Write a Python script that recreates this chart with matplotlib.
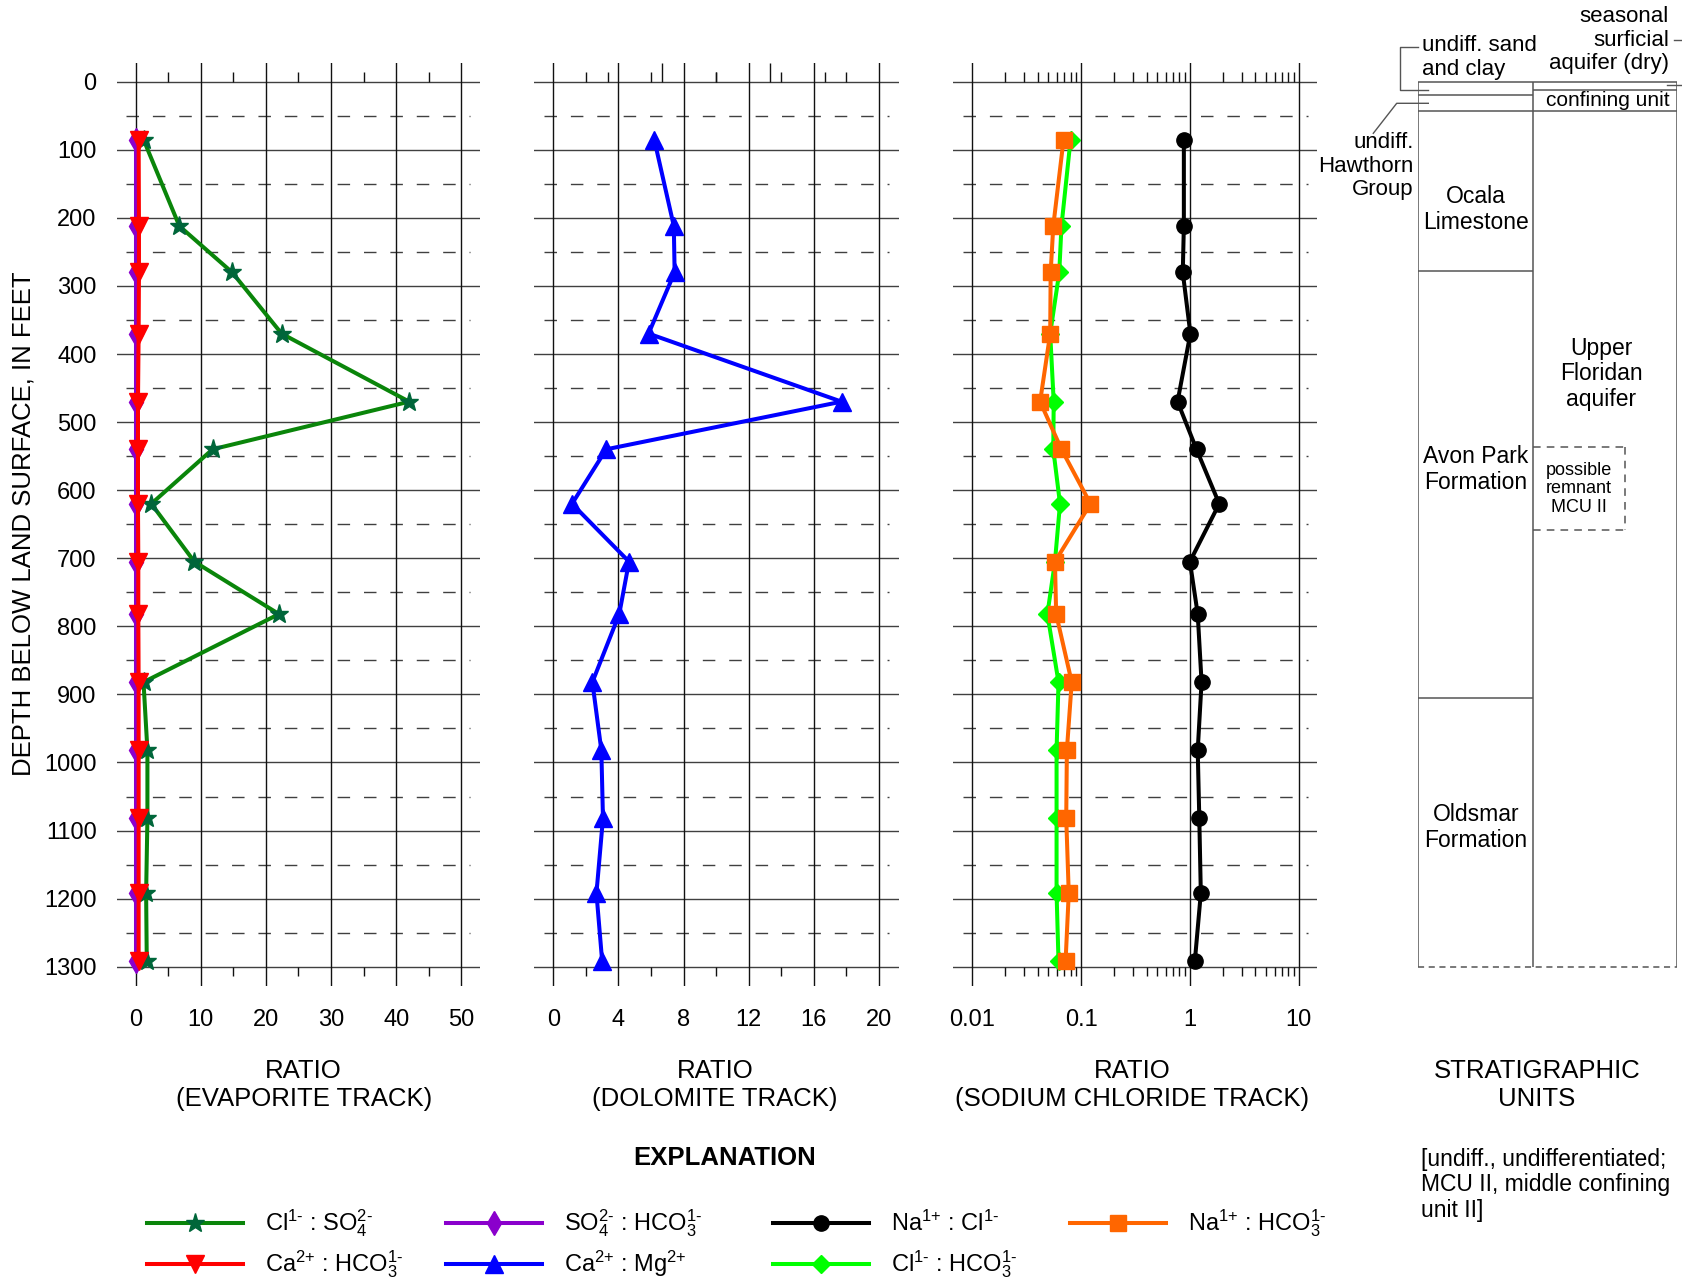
import matplotlib
matplotlib.use("Agg")
import matplotlib.pyplot as plt
import numpy as np

plt.rcParams["font.family"] = ["Liberation Sans", "DejaVu Sans"]
plt.rcParams["mathtext.fontset"] = "custom"
plt.rcParams["mathtext.rm"] = "Liberation Sans"
plt.rcParams["mathtext.it"] = "Liberation Sans:italic"
plt.rcParams["mathtext.bf"] = "Liberation Sans:bold"
plt.rcParams["mathtext.default"] = "rm"

# sample depths, feet below land surface
depth_ft = [85, 212, 280, 370, 470, 540, 620, 705, 782, 882, 982, 1082, 1192, 1292]

# evaporite track
cl_so4 = [1.2, 6.7, 14.8, 22.4, 42.0, 11.8, 2.4, 9.0, 22.0, 1.2, 1.8, 1.8, 1.6, 1.7]
ca_hco3 = [0.45, 0.5, 0.5, 0.45, 0.35, 0.35, 0.35, 0.4, 0.4, 0.45, 0.45, 0.45, 0.45, 0.45]
so4_hco3 = [0.05, 0.05, 0.05, 0.05, 0.05, 0.05, 0.05, 0.05, 0.05, 0.05, 0.05, 0.05, 0.05, 0.05]

# dolomite track
ca_mg = [6.2, 7.4, 7.45, 5.85, 17.7, 3.25, 1.15, 4.65, 4.05, 2.4, 2.95, 3.05, 2.65, 3.0]

# sodium chloride track
na_cl = [0.88, 0.88, 0.86, 1.01, 0.77, 1.15, 1.86, 1.0, 1.18, 1.28, 1.18, 1.22, 1.26, 1.11]
cl_hco3 = [0.080, 0.066, 0.063, 0.052, 0.056, 0.0555, 0.064, 0.0575, 0.049, 0.062,
           0.0595, 0.0595, 0.0595, 0.062]
na_hco3 = [0.069, 0.0555, 0.0525, 0.052, 0.042, 0.066, 0.122, 0.0575, 0.059, 0.082,
           0.074, 0.073, 0.077, 0.072]

# stratigraphic unit boundaries (ft)
left_bounds = [20, 43, 278, 905]      # sand/clay, Hawthorn, Ocala, Avon Park | Oldsmar
right_bounds = [12, 43]               # surficial, confining unit | Upper Floridan
mcu_box = (537, 658)                  # possible remnant MCU II

depth_ticks = list(range(0, 1301, 100))
evap_ticks = [0, 10, 20, 30, 40, 50]
dolo_ticks = [0, 4, 8, 12, 16, 20]
nacl_ticks = [0.01, 0.1, 1, 10]
nacl_labels = ["0.01", "0.1", "1", "10"]

W, H = 1683, 1285
D0_PX, D1_PX = 81.7, 966.7        # depth 0 and 1300 ft
AX_TOP, AX_BOT = 63.3, 985.7
FT_PX = 1300 / (D1_PX - D0_PX)
YLIM = (1300 + (AX_BOT - D1_PX) * FT_PX, -(D0_PX - AX_TOP) * FT_PX)
MINOR_FT = 14

HCOL = "#404040"
VCOL = "#111111"
TICK_FS = 17
LAB_FS = 18.5
LS_UNIT = 1.15

fig = plt.figure(figsize=(W / 100, H / 100), dpi=100)

bg = fig.add_axes([0, 0, 1, 1])
bg.set_xlim(0, W)
bg.set_ylim(H, 0)
bg.axis("off")


def px_rect(x0, x1, y0, y1):
    return [x0 / W, 1 - y1 / H, (x1 - x0) / W, (y1 - y0) / H]


def make_track(x0, x1, ref_px, ref_val, ticks, labels, minors, log=False):
    ax = fig.add_axes(px_rect(x0, x1, AX_TOP, AX_BOT))
    ax.patch.set_visible(False)
    for s in ax.spines.values():
        s.set_visible(False)
    (p0, p1), (v0, v1) = ref_px, ref_val
    if log:
        ax.set_xscale("log")
        v0, v1 = np.log10(v0), np.log10(v1)
    k = (v1 - v0) / (p1 - p0)
    lo, hi = v0 - (p0 - x0) * k, v1 + (x1 - p1) * k
    ax.set_xlim((10 ** lo, 10 ** hi) if log else (lo, hi))
    ax.set_ylim(YLIM)
    ax.minorticks_off()
    ax.set_xticks(ticks, labels)
    ax.set_yticks([])
    ax.tick_params(axis="x", length=0, pad=23.3 * 0.72, labelsize=TICK_FS)
    for d in depth_ticks:
        ax.axhline(d, color=HCOL, lw=1.0, zorder=1)
    inset = 9.5 / (x1 - x0)
    for d in range(50, 1300, 100):
        ax.axhline(d, inset, 1 - inset, color=HCOL, lw=1.0, ls=(0, (9, 10)), zorder=1)
    for v in ticks:
        ax.axvline(v, color=VCOL, lw=1.0, zorder=1)
    ax.vlines(minors, -MINOR_FT, 0, color=VCOL, lw=1.0, zorder=1)
    ax.vlines(minors, 1300, 1300 + MINOR_FT, color=VCOL, lw=1.0, zorder=1)
    return ax


# --- evaporite track
ax1 = make_track(116.7, 480, (135.7, 461.3), (0, 50), evap_ticks,
                 [str(t) for t in evap_ticks], [5, 15, 25, 35, 45])
ax1.set_yticks(depth_ticks, [str(d) for d in depth_ticks])
ax1.tick_params(axis="y", length=0, pad=20 * 0.72, labelsize=TICK_FS)
ax1.plot(cl_so4, depth_ft, color="#0A850A", lw=2.9, marker="*", ms=14,
         mfc="#00663A", mec="#00663A", zorder=3)
ax1.plot(so4_hco3, depth_ft, color="#8A00CC", lw=2.9, marker="d", ms=12, zorder=4)
ax1.plot(ca_hco3, depth_ft, color="#FF0000", lw=2.9, marker="v", ms=13, zorder=5)

# --- dolomite track (top scale is offset from the grid in the original)
ax2 = make_track(534.3, 899, (553.3, 879), (0, 20), dolo_ticks,
                 [str(t) for t in dolo_ticks], [2, 6, 10, 14, 18])
ax2.vlines([20 / 3, 40 / 3], YLIM[1], 0, color=VCOL, lw=1.0, zorder=1)
ax2.vlines([10 / 3, 10, 50 / 3], -MINOR_FT, 0, color=VCOL, lw=1.0, zorder=1)
ax2.plot(ca_mg, depth_ft, color="#0000FF", lw=2.9, marker="^", ms=12.5, zorder=3)

# --- sodium chloride track
log_minors = [m * 10.0 ** e for e in (-2, -1, 0) for m in range(2, 10)]
ax3 = make_track(953.3, 1317, (972.3, 1298.7), (0.01, 10), nacl_ticks, nacl_labels,
                 log_minors, log=True)
ax3.plot(na_cl, depth_ft, color="black", lw=2.9, marker="o", ms=11, zorder=3)
ax3.plot(cl_hco3, depth_ft, color="#00FF00", lw=2.9, marker="D", ms=9.5, zorder=3)
ax3.plot(na_hco3, depth_ft, color="#FF6600", lw=2.9, marker="s", ms=11, zorder=4)

# --- stratigraphic column
sx0, sx1, split_px = 1418.3, 1676.7, 1533.3
split = (split_px - sx0) / (sx1 - sx0)
st = fig.add_axes(px_rect(sx0, sx1, AX_TOP, AX_BOT))
st.set_xlim(0, 1)
st.set_ylim(YLIM)
st.axis("off")
SCOL = "#555555"
st.vlines([0, split, 1], 0, 1300, color=SCOL, lw=1.1)
st.hlines(0, 0, 1, color=SCOL, lw=1.1)
st.hlines(left_bounds, 0, split, color=SCOL, lw=1.1)
st.hlines(right_bounds, split, 1, color=SCOL, lw=1.1)
st.hlines(1300, 0, 1, color=SCOL, lw=1.1, ls=(0, (4, 3)))
bx1 = (1625 - sx0) / (sx1 - sx0)
st.hlines(list(mcu_box), split, bx1, color=SCOL, lw=1.1, ls=(0, (5, 4)))
st.vlines(bx1, *mcu_box, color=SCOL, lw=1.1, ls=(0, (5, 4)))

unit_fs = 16.5
st.text(split / 2, 188, "Ocala\nLimestone", ha="center", va="center", fontsize=unit_fs,
        linespacing=LS_UNIT)
st.text(split / 2, 570, "Avon Park\nFormation", ha="center", va="center", fontsize=unit_fs,
        linespacing=LS_UNIT)
st.text(split / 2, 1096, "Oldsmar\nFormation", ha="center", va="center", fontsize=unit_fs,
        linespacing=LS_UNIT)
st.text((split + 1) / 2 - 0.015, 429, "Upper\nFloridan\naquifer", ha="center", va="center",
        fontsize=unit_fs, linespacing=LS_UNIT)
st.text((split + bx1) / 2, 598, "possible\nremnant\nMCU II", ha="center", va="center",
        fontsize=13, linespacing=1.13)
st.text((split + 1) / 2 + 0.01, 27, "confining unit", ha="center", va="center", fontsize=15)

# annotations left/above the column
bg.text(1413.5, 166, "undiff.\nHawthorn\nGroup", ha="right", va="center", fontsize=16,
        linespacing=LS_UNIT)
bg.plot([1373.3, 1396.7, 1428.3], [133.3, 103.3, 103.3], color=SCOL, lw=1.0)
bg.text(1421.7, 57.5, "undiff. sand\nand clay", ha="left", va="center", fontsize=16,
        linespacing=LS_UNIT)
bg.plot([1418.3, 1400, 1400, 1428.3], [46.7, 46.7, 90, 90], color=SCOL, lw=1.0)
bg.text(1669, 40, "seasonal\nsurficial\naquifer (dry)", ha="right", va="center",
        fontsize=16, linespacing=1.18)
bg.plot([1674, 1683], [40, 40], color=SCOL, lw=1.0)
bg.plot([1666.7, 1683], [85, 85], color=SCOL, lw=1.0)

# --- axis titles
bg.text(23.6, 524, "DEPTH BELOW LAND SURFACE, IN FEET", rotation=90, ha="center",
        va="center", fontsize=LAB_FS)
for x, s in [(303.7, "RATIO\n(EVAPORITE TRACK)"), (715, "RATIO\n(DOLOMITE TRACK)"),
             (1132, "RATIO\n(SODIUM CHLORIDE TRACK)"), (1537, "STRATIGRAPHIC\nUNITS")]:
    bg.text(x, 1085, s, ha="center", va="center", fontsize=LAB_FS, linespacing=1.22)

bg.text(1421, 1185, "[undiff., undifferentiated;\nMCU II, middle confining\nunit II]",
        ha="left", va="center", fontsize=16.5, linespacing=LS_UNIT)

# --- explanation
bg.text(724.5, 1158, "EXPLANATION", ha="center", va="center", fontsize=LAB_FS,
        fontweight="bold")
legend_items = [
    (147, 1223, dict(color="#0A850A", marker="*", ms=14, mfc="#00663A", mec="#00663A"),
     r"Cl$^{1\text{-}}$ : SO$_4^{2\text{-}}$"),
    (147, 1264, dict(color="#FF0000", marker="v", ms=13),
     r"Ca$^{2\text{+}}$ : HCO$_3^{1\text{-}}$"),
    (446.5, 1223, dict(color="#8A00CC", marker="d", ms=12),
     r"SO$_4^{2\text{-}}$ : HCO$_3^{1\text{-}}$"),
    (446.5, 1264, dict(color="#0000FF", marker="^", ms=12.5),
     r"Ca$^{2\text{+}}$ : Mg$^{2\text{+}}$"),
    (772.8, 1223, dict(color="black", marker="o", ms=11),
     r"Na$^{1\text{+}}$ : Cl$^{1\text{-}}$"),
    (772.8, 1264, dict(color="#00FF00", marker="D", ms=9.5),
     r"Cl$^{1\text{-}}$ : HCO$_3^{1\text{-}}$"),
    (1070, 1223, dict(color="#FF6600", marker="s", ms=11),
     r"Na$^{1\text{+}}$ : HCO$_3^{1\text{-}}$"),
]
for x0, y, style, label in legend_items:
    bg.plot([x0, x0 + 96], [y, y], color=style["color"], lw=2.9)
    bg.plot([x0 + 48], [y], ls="none", **style)
    bg.text(x0 + 118, y, label, ha="left", va="center", fontsize=TICK_FS)

fig.savefig("out.png", dpi=100)
